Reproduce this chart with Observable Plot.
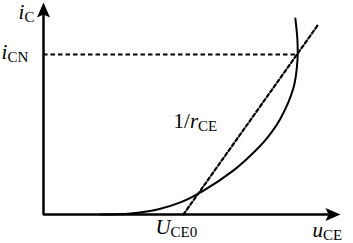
<!DOCTYPE html>
<html>
<head>
<meta charset="utf-8">
<script src="https://cdn.jsdelivr.net/npm/d3@7"></script>
<script src="https://cdn.jsdelivr.net/npm/@observablehq/plot@0.6"></script>
<style>
  html, body { margin: 0; padding: 0; background: #fff; }
  svg { display: block; }
</style>
</head>
<body>
<div id="chart"></div>
<script>
// Output characteristic (abstract units: u along x 0..10, i along y 0..10)
const curveU = [1.92, 2.93, 3.84, 4.61, 5.39, 6.40, 6.97, 7.54, 7.98, 8.42, 8.55, 8.55, 8.48];
const curveI = [0.00, 0.05, 0.24, 0.57, 1.13, 2.08, 2.78, 3.63, 4.53, 5.99, 7.26, 8.21, 9.25];

// Tangent (1/rCE) line
const tangentU = [4.71, 9.23];
const tangentI = [0.00, 8.92];

// Operating point
const U_CE0 = 4.71;
const U_N = 8.52;
const I_CN = 7.55;

// Axes extents
const axisMax = 10;

// Labels: [upright prefix, italic letter, subscript]
const labelPre = ["", "", "1/", "", ""];
const labelIt  = ["i", "i", "r", "U", "u"];
const labelSub = ["C", "CN", "CE", "CE0", "CE"];
const labelU   = [-0.84, -1.41, 4.38, U_CE0, axisMax];
const labelI   = [9.2, I_CN, 4.06, 0, 0];

const curve = curveU.map((u, k) => ({u, i: curveI[k]}));
const tangent = tangentU.map((u, k) => ({u, i: tangentI[k]}));
const labelDx = [0, 0, 0, -28, -28];
const labelDy = [0, 5, 0, 19, 22];
const labels = labelIt.map((t, k) => ({
  u: labelU[k], i: labelI[k], text: labelPre[k] + t + labelSub[k],
  dx: labelDx[k], dy: labelDy[k]
}));

const arrowHead = {
  draw(ctx) {
    ctx.moveTo(0, 0);
    ctx.lineTo(-6.5, 15);
    ctx.lineTo(0, 12);
    ctx.lineTo(6.5, 15);
    ctx.closePath();
  }
};

const serif = "'Liberation Serif', 'Times New Roman', serif";

const chart = Plot.plot({
  width: 353,
  height: 243,
  margin: 0,
  style: {fontFamily: serif, background: "#fff"},
  x: {domain: [0, axisMax], range: [43, 340], axis: null},
  y: {domain: [0, axisMax], range: [214, 2], axis: null},
  marks: [
    Plot.ruleY([I_CN], {x1: 0, x2: U_N, stroke: "black", strokeWidth: 2, strokeDasharray: "4.5,3"}),
    Plot.line(tangent, {x: "u", y: "i", stroke: "black", strokeWidth: 2.2, strokeDasharray: "3.5,2.5"}),
    Plot.line(curve, {x: "u", y: "i", stroke: "black", strokeWidth: 2, curve: "catmull-rom"}),
    Plot.line([{u: 0, i: axisMax - 0.5}, {u: 0, i: 0}, {u: axisMax - 0.4, i: 0}],
      {x: "u", y: "i", stroke: "black", strokeWidth: 2.5, strokeLinejoin: "miter", strokeLinecap: "butt"}),
    Plot.dot([{u: 0, i: axisMax, r: 0}, {u: axisMax, i: 0, r: 90}],
      {x: "u", y: "i", symbol: arrowHead, rotate: "r", fill: "black", stroke: null, r: 5}),
    Plot.text(labels, {x: "u", y: "i", text: "text", textAnchor: "start",
      lineAnchor: "bottom", fontSize: 21, fill: "black"})
  ]
});

// Apply offsets and build tspans for italic/subscript parts
const texts = chart.querySelectorAll('g[aria-label="text"] text');
texts.forEach((t, k) => {
  const d = labels[k];
  const tr = t.getAttribute("transform") || "";
  t.setAttribute("transform", tr + ` translate(${d.dx},${d.dy})`);
  t.textContent = "";
  const ns = "http://www.w3.org/2000/svg";
  if (labelPre[k]) {
    const p = document.createElementNS(ns, "tspan");
    p.textContent = labelPre[k];
    t.appendChild(p);
  }
  const it = document.createElementNS(ns, "tspan");
  it.setAttribute("font-style", "italic");
  it.textContent = labelIt[k];
  t.appendChild(it);
  const sb = document.createElementNS(ns, "tspan");
  sb.setAttribute("font-size", "15");
  sb.setAttribute("dy", "3");
  sb.textContent = labelSub[k];
  t.appendChild(sb);
});

document.getElementById("chart").appendChild(chart);
</script>
</body>
</html>
